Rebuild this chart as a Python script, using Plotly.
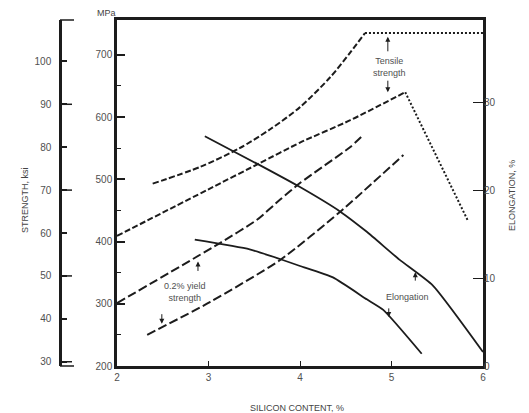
import plotly.graph_objects as go

# Tensile strength, MPa (two conditions)
si_ts_a = [2.39, 2.91, 3.34, 3.67, 4.0, 4.33, 4.55, 4.71]
ts_a = [493, 520, 550, 580, 616, 664, 704, 735]
si_ts_a_flat = [4.71, 6.0]
ts_a_flat = [735, 735]

si_ts_b = [2.0, 3.0, 3.56, 4.0, 4.55, 5.15]
ts_b = [409, 484, 526, 559, 595, 640]
si_ts_b_drop = [5.15, 5.84]
ts_b_drop = [640, 432]

# 0.2% yield strength, MPa
si_ys_a = [2.0, 3.13, 3.53, 3.78, 4.0, 4.55, 4.69]
ys_a = [301, 398, 435, 467, 494, 552, 571]
si_ys_b = [2.33, 3.02, 3.78, 4.44, 5.13]
ys_b = [250, 303, 370, 448, 539]

# Elongation, %
si_el_a = [2.96, 3.56, 4.0, 4.44, 4.73, 5.09, 5.45, 6.0]
el_a = [26.2, 22.9, 20.4, 17.6, 15.3, 12.1, 9.2, 1.6]
si_el_b = [2.85, 3.45, 3.78, 4.0, 4.36, 4.73, 4.91, 5.33]
el_b = [14.4, 13.3, 12.2, 11.4, 10.1, 7.6, 6.4, 1.4]

mpa_ticks = [200, 300, 400, 500, 600, 700]
mpa_minor = [250, 350, 450, 550, 650]
ksi_ticks = [30, 40, 50, 60, 70, 80, 90, 100]
ksi_long = [30, 50, 70, 90]
el_ticks = [0, 10, 20, 30]
si_ticks = [2, 3, 4, 5, 6]

MPA_RANGE = [200, 756]
KSI_PER_MPA = 1 / 6.895
EL_RANGE = [0, 39.45]

INK = "#1c1c1c"
TXT = "#505050"
FONT = "Liberation Sans, Arial, sans-serif"

fig = go.Figure()


def curve(x, y, dash, yaxis="y", shape="spline", width=2, smoothing=0.6):
    fig.add_trace(go.Scatter(
        x=x, y=y, mode="lines", yaxis=yaxis, showlegend=False,
        line=dict(color=INK, width=width, dash=dash, shape=shape,
                  smoothing=smoothing),
        hoverinfo="skip"))


curve(si_ts_a, ts_a, "6px,2.5px", smoothing=0.8)
curve(si_ts_a_flat, ts_a_flat, "2px,2px", shape="linear")
curve(si_ts_b, ts_b, "6px,2.5px")
curve(si_ts_b_drop, ts_b_drop, "2px,2px", shape="linear")
curve(si_ys_a, ys_a, "9px,3.5px")
curve(si_ys_b, ys_b, "9px,3.5px")
curve(si_el_a, el_a, "solid", yaxis="y2", width=1.8, smoothing=0.5)
curve(si_el_b, el_b, "solid", yaxis="y2", width=1.8, smoothing=0.5)

plot_left, plot_right = 60, 483
plot_w = plot_right - plot_left
xdom0 = (117 - plot_left) / plot_w

axis_common = dict(showgrid=False, zeroline=False, linecolor=INK,
                   tickcolor=INK, tickfont=dict(size=10, color=TXT, family=FONT))

fig.update_layout(
    width=529, height=413,
    margin=dict(l=plot_left, r=529 - plot_right, t=20, b=47),
    paper_bgcolor="white", plot_bgcolor="white",
    font=dict(family=FONT, color=TXT),
    xaxis=dict(domain=[xdom0, 1], range=[2, 6], tickvals=si_ticks,
               ticks="inside", ticklen=5, tickwidth=1,
               showline=True, linewidth=2.5, mirror=True, **axis_common),
    yaxis=dict(range=MPA_RANGE, tickvals=mpa_ticks, ticks="inside",
               ticklen=8, tickwidth=1.5,
               minor=dict(tickvals=mpa_minor, ticks="inside", ticklen=4,
                          tickcolor=INK, tickwidth=1),
               showline=True, linewidth=2.5, mirror=True, **axis_common),
    yaxis2=dict(overlaying="y", side="right", range=EL_RANGE,
                tickvals=el_ticks, ticks="inside", ticklen=10, tickwidth=1,
                showline=False, **axis_common),
    yaxis3=dict(overlaying="y", anchor="free", position=0, side="left",
                range=[v * KSI_PER_MPA for v in MPA_RANGE],
                tickvals=ksi_ticks, ticks="inside", ticklen=5, tickwidth=1.5,
                ticklabelstandoff=6,
                showline=True, linewidth=2.5, **axis_common),
)

# longer ticks on the ksi scale and the end hooks
for k in ksi_long:
    fig.add_shape(type="line", xref="paper", yref="y3", x0=0, x1=12 / plot_w,
                  y0=k, y1=k, line=dict(color=INK, width=1.5))
for yp in (0, 1):
    fig.add_shape(type="line", xref="paper", yref="paper", x0=0, x1=14 / plot_w,
                  y0=yp, y1=yp, line=dict(color=INK, width=1.5))

# axis titles
title_font = dict(size=9, color="#444444", family=FONT)
fig.add_annotation(text="MPa", xref="paper", yref="paper",
                   x=(95 - plot_left) / plot_w, y=1, yanchor="middle", yshift=7,
                   showarrow=False, font=title_font)
fig.add_annotation(text="STRENGTH, ksi", xref="paper", yref="paper",
                   x=(18 - plot_left) / plot_w, y=(366 - 200) / 346, textangle=-90,
                   showarrow=False, font=title_font)
fig.add_annotation(text="ELONGATION, %", xref="paper", yref="paper",
                   x=(519 - plot_left) / plot_w, y=(366 - 196) / 346, textangle=-90,
                   showarrow=False, font=title_font)
fig.add_annotation(text="SILICON CONTENT, %", xref="paper", yref="paper",
                   x=(297 - plot_left) / plot_w, y=0, yanchor="middle", yshift=-42,
                   showarrow=False, font=title_font)

# curve labels
lab_font = dict(size=9, color=TXT, family=FONT)
fig.add_annotation(text="Tensile<br>strength", x=4.98, y=681, showarrow=False,
                   font=lab_font)
fig.add_annotation(text="0.2% yield<br>strength", x=2.74, y=319, showarrow=False,
                   font=lab_font)
fig.add_annotation(text="Elongation", x=5.18, y=7.9, yref="y2", showarrow=False,
                   font=lab_font)


def pointer(x, y, ay, yref="y"):
    fig.add_annotation(x=x, y=y, yref=yref, text="", showarrow=True, ax=0, ay=ay,
                       arrowhead=2, arrowsize=1, arrowwidth=1, arrowcolor=INK)


pointer(4.96, 729, 16)
pointer(4.96, 640, -13)
pointer(2.885, 368, 11)
pointer(2.49, 268, -11)
pointer(5.26, 10.7, 10, yref="y2")
pointer(4.97, 5.6, -10, yref="y2")

fig.write_html("out.html")
